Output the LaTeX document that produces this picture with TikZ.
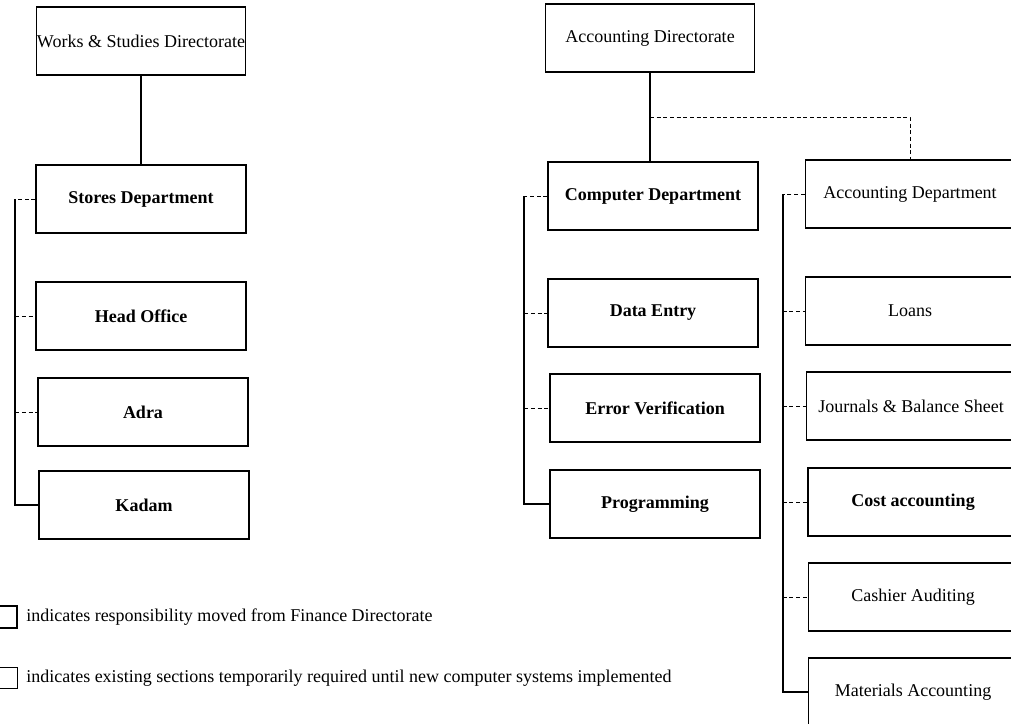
\documentclass[tikz,border=0pt]{standalone}
\usepackage{fontspec}
\setmainfont{Liberation Serif}
\begin{document}
\begin{tikzpicture}[
    x=0.75pt, y=-0.75pt,
    box/.style={draw, minimum width=157pt, minimum height=51pt,
                font=\fontsize{13.5}{15}\selectfont, align=center, inner sep=0pt},
    moved/.style={box, line width=1.7pt, font=\fontsize{13.5}{15}\selectfont\bfseries},
    plain/.style={box, line width=0.8pt},
    spine/.style={line width=1.3pt},
    tick/.style={line width=0.5pt, densely dashed},
    link/.style={line width=1.3pt},
    keybox/.style={draw, minimum width=14pt, minimum height=16pt, inner sep=0pt},
    keytext/.style={anchor=west, font=\fontsize{13.5}{15}\selectfont, inner sep=0pt}
  ]
  \useasboundingbox (0,0) rectangle (1011,724);
  \clip (0,0) rectangle (1011,724);

  % left branch
  \node[plain] (wsd) at (141,41) {Works \& Studies Directorate};
  \node[moved] (stores) at (141,199) {Stores Department};
  \node[moved] (head) at (141,316) {Head Office};
  \node[moved] (adra) at (143,412) {Adra};
  \node[moved] (kadam) at (144,505) {Kadam};

  \draw[link] (wsd.south) -- (wsd.south |- stores.north);
  \draw[tick] (stores.west) -- ++(-20,0) coordinate (sTop);
  \draw[spine] (sTop) |- (kadam.west);
  \draw[tick] (sTop |- head.west) -- (head.west);
  \draw[tick] (sTop |- adra.west) -- (adra.west);

  % right branch
  \node[plain] (accdir) at (650,38) {Accounting Directorate};
  \node[moved] (comp) at (653,196) {Computer Department};
  \node[plain] (acct) at (910,194) {Accounting Department};
  \node[moved] (entry) at (653,313) {Data Entry};
  \node[moved] (errver) at (655,408) {Error Verification};
  \node[moved] (prog) at (655,504) {Programming};
  \node[plain] (loans) at (910,311) {Loans};
  \node[plain] (journals) at (911,406) {Journals \& Balance Sheet};
  \node[moved] (cost) at (913,502) {Cost accounting};
  \node[plain] (cashier) at (913,597) {Cashier Auditing};
  \node[plain] (materials) at (913,692) {Materials Accounting};

  \draw[link] (accdir.south) -- (accdir.south |- comp.north);
  \coordinate (split) at (accdir.south |- 0,117);
  \draw[tick] (split) -| (acct.north);

  \draw[tick] (comp.west) -- ++(-23,0) coordinate (cTop);
  \draw[spine] (cTop) |- (prog.west);
  \draw[tick] (cTop |- entry.west) -- (entry.west);
  \draw[tick] (cTop |- errver.west) -- (errver.west);

  \draw[tick] (acct.west) -- ++(-22,0) coordinate (aTop);
  \draw[spine] (aTop) |- (materials.west);
  \foreach \n in {loans,journals,cost,cashier}
    \draw[tick] (aTop |- \n.west) -- (\n.west);

  % key
  \node[keybox, line width=1.7pt] (keyA) at (8,617) {};
  \node[keytext] (keyAtext) at (26,617) {indicates responsibility moved from Finance Directorate};
  \node[keybox, line width=0.8pt] (keyB) at (8,678) {};
  \node[keytext] (keyBtext) at (26,678) {indicates existing sections temporarily required until new computer systems implemented};
\end{tikzpicture}
\end{document}
